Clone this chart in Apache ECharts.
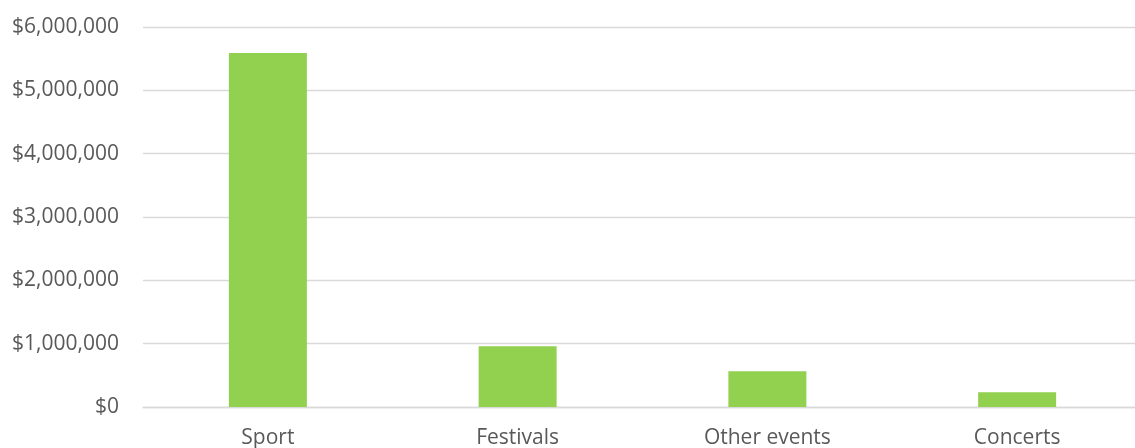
<!DOCTYPE html>
<html>
<head>
<meta charset="utf-8">
<script src="https://cdn.jsdelivr.net/npm/echarts@6/dist/echarts.min.js"></script>
<style>
  html, body { margin: 0; padding: 0; background: #fff; }
  #chart { width: 1135px; height: 448px; }
</style>
</head>
<body>
<div id="chart"></div>
<script>
  const categories = ['Sport', 'Festivals', 'Other events', 'Concerts'];
  const revenue = [5590000, 958000, 563000, 232000];
  const yMin = 0;
  const yMax = 6000000;
  const yStep = 1000000;

  const labelFont = {color: '#595959', fontFamily: 'Open Sans', fontSize: 21};

  const myChart = echarts.init(document.getElementById('chart'));
  myChart.setOption({
    animation: false,
    // plot runs a few px past the right edge, as in the source
    grid: {left: 143, width: 999, top: 27, bottom: 41, containLabel: false, outerBoundsMode: 'none'},
    xAxis: {
      type: 'category',
      data: categories,
      axisTick: {show: false},
      axisLine: {lineStyle: {color: '#d9d9d9', width: 1.3}},
      axisLabel: Object.assign({margin: 21}, labelFont)
    },
    yAxis: {
      type: 'value',
      min: yMin,
      max: yMax,
      interval: yStep,
      axisLine: {show: false},
      axisTick: {show: false},
      splitLine: {lineStyle: {color: '#d9d9d9', width: 1.3}},
      axisLabel: Object.assign({
        margin: 24,
        formatter: v => '$' + v.toLocaleString('en-US')
      }, labelFont)
    },
    series: [{
      type: 'bar',
      data: revenue,
      barWidth: 78,
      itemStyle: {color: '#92d050'}
    }]
  });
</script>
</body>
</html>
